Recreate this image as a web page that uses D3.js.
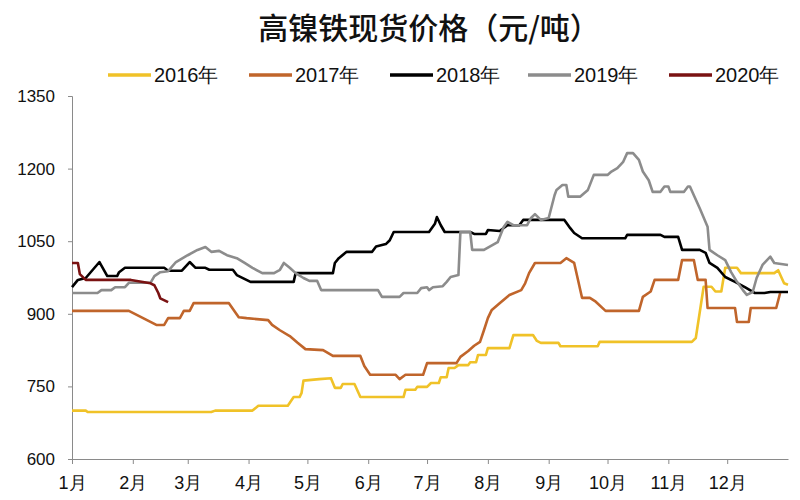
<!DOCTYPE html>
<html>
<head>
<meta charset="utf-8">
<script src="https://cdn.jsdelivr.net/npm/d3@7"></script>
<style>
  body { margin: 0; background: #fff; }
  svg { display: block; }
</style>
</head>
<body>
<svg id="chart" width="800" height="500"></svg>
<script>
// ---- data (day of year, price 元/吨) ----
const title = "高镍铁现货价格（元/吨）";
const seriesNames = ["2016年", "2017年", "2018年", "2019年", "2020年"];
const seriesColors = ["#F0C228", "#C0652B", "#000000", "#8C8C8C", "#7A1212"];
const monthLabels = ["1月","2月","3月","4月","5月","6月","7月","8月","9月","10月","11月","12月"];
const monthStartDays = [0,31,59,90,120,151,181,212,243,273,304,334];
const yTicks = [600, 750, 900, 1050, 1200, 1350];

const s2016 = [[0,700],[7,700],[8,697],[71,697],[73,700],[92,700],[95,710],[110,710],[113,728],[116,728],[117,736],[118,762],[126,765],[132,767],[134,747],[137,747],[138,755],[144,755],[147,728],[169,728],[170,743],[175,743],[176,749],[181,749],[183,757],[187,757],[188,769],[191,769],[192,788],[195,788],[197,794],[202,794],[203,800],[206,800],[207,815],[211,815],[212,829],[223,829],[225,856],[235,856],[237,844],[239,840],[248,840],[249,833],[268,833],[269,842],[316,842],[318,850],[322,956],[326,956],[328,946],[331,946],[333,995],[339,995],[341,984],[358,984],[360,990],[363,963],[365,960]];
const s2017 = [[0,906],[29,906],[43,877],[47,877],[49,891],[55,891],[57,906],[60,906],[62,922],[80,922],[85,893],[89,891],[100,887],[102,877],[106,866],[111,854],[115,840],[119,827],[128,825],[133,813],[147,813],[149,792],[152,774],[165,774],[167,765],[170,774],[179,774],[181,798],[196,798],[198,811],[202,823],[205,834],[208,842],[210,866],[212,891],[214,908],[218,922],[223,939],[229,949],[231,963],[233,984],[236,1005],[249,1005],[252,1015],[256,1005],[260,933],[264,933],[267,925],[272,906],[289,906],[291,935],[295,946],[297,970],[309,970],[311,1011],[317,1011],[319,970],[323,970],[324,912],[338,912],[339,883],[345,883],[346,912],[359,912],[361,943]];
const s2018 = [[0,955],[3,970],[7,974],[14,1007],[18,978],[23,978],[24,986],[27,995],[47,995],[49,989],[56,989],[60,1007],[63,995],[68,995],[70,991],[82,991],[84,980],[91,966],[113,966],[114,984],[133,984],[134,1005],[136,1015],[140,1028],[153,1028],[155,1039],[160,1044],[162,1052],[164,1069],[182,1069],[185,1086],[186,1100],[188,1083],[190,1069],[203,1069],[205,1065],[211,1065],[212,1073],[218,1071],[222,1083],[228,1083],[230,1094],[251,1094],[254,1077],[256,1067],[260,1056],[282,1056],[283,1063],[300,1063],[302,1059],[309,1059],[311,1032],[320,1032],[323,1026],[325,1005],[329,995],[333,976],[338,966],[343,955],[348,943],[353,943],[356,945],[365,945]];
const s2019 = [[0,943],[13,943],[15,949],[20,949],[22,955],[27,955],[29,964],[40,964],[42,978],[45,986],[49,988],[53,1007],[59,1021],[64,1032],[68,1038],[71,1028],[75,1030],[79,1021],[84,1015],[88,1005],[92,995],[97,984],[103,984],[106,991],[108,1005],[111,995],[114,984],[118,974],[121,968],[125,968],[127,949],[156,949],[158,935],[167,935],[169,943],[176,943],[178,953],[181,955],[182,949],[184,955],[189,957],[191,966],[193,976],[197,980],[198,1069],[203,1069],[204,1032],[210,1032],[217,1048],[220,1079],[222,1090],[225,1083],[232,1083],[234,1098],[236,1106],[239,1094],[243,1098],[246,1145],[247,1156],[250,1166],[252,1166],[253,1142],[259,1142],[263,1156],[266,1187],[273,1187],[275,1194],[278,1201],[281,1214],[283,1232],[286,1232],[289,1218],[291,1194],[294,1176],[296,1152],[300,1152],[302,1163],[304,1163],[305,1152],[312,1152],[314,1163],[315,1163],[317,1145],[320,1118],[324,1080],[325,1032],[329,1021],[333,1011],[336,986],[339,966],[342,949],[344,939],[347,945],[349,974],[352,1001],[356,1018],[358,1005],[365,1001]];
const s2020 = [[0,1005],[3,1005],[4,982],[7,970],[30,970],[40,963],[42,959],[44,943],[45,932],[49,924]];
const allSeries = [s2016, s2017, s2018, s2019, s2020];

// ---- layout ----
const svg = d3.select("#chart");
const plotLeft = 72, plotRight = 788, plotTop = 96, plotBottom = 459;
const x = d3.scaleLinear().domain([0, 365]).range([plotLeft, plotRight]);
const y = d3.scaleLinear().domain([600, 1350]).range([plotBottom, plotTop]);
const axisColor = "#8a8a8a";
const numFont = "'Liberation Sans', Arial, sans-serif";
const cjkFont = "'Noto Sans CJK SC', 'Noto Sans', sans-serif";

// title
svg.append("text")
  .attr("x", 429).attr("y", 39)
  .attr("text-anchor", "middle")
  .attr("font-family", cjkFont)
  .attr("font-size", 30)
  .attr("font-weight", 500)
  .attr("fill", "#111")
  .text(title);

// legend
const legendX = [108, 249, 390, 528, 669];
seriesNames.forEach((name, i) => {
  const g = svg.append("g").attr("transform", `translate(${legendX[i]},75)`);
  g.append("line").attr("x1", 0).attr("x2", 43).attr("y1", 0).attr("y2", 0)
    .attr("stroke", seriesColors[i]).attr("stroke-width", 3.5);
  g.append("text").attr("x", 46).attr("y", 7)
    .attr("font-family", numFont).attr("font-size", 20).attr("fill", "#111")
    .text(name);
});

// y axis
const yAxis = d3.axisLeft(y).tickValues(yTicks).tickFormat(d3.format("d")).tickSize(4).tickPadding(13);
const gy = svg.append("g").attr("transform", `translate(${plotLeft},0)`).call(yAxis);
gy.select(".domain").attr("stroke", axisColor);
gy.selectAll(".tick line").attr("stroke", axisColor);
gy.selectAll(".tick text").attr("font-family", numFont).attr("font-size", 17).attr("fill", "#111");

// x axis
const xAxis = d3.axisBottom(x).tickValues(monthStartDays)
  .tickFormat((d, i) => monthLabels[i]).tickSize(5).tickPadding(12).tickSizeOuter(0);
const gx = svg.append("g").attr("transform", `translate(0,${plotBottom})`).call(xAxis);
gx.select(".domain").attr("stroke", axisColor);
gx.selectAll(".tick line").attr("stroke", axisColor);
gx.selectAll(".tick text").attr("font-family", numFont).attr("font-size", 18).attr("fill", "#111");

// lines
const line = d3.line().x(d => x(d[0])).y(d => y(d[1]));
allSeries.forEach((s, i) => {
  svg.append("path").datum(s)
    .attr("d", line)
    .attr("fill", "none")
    .attr("stroke", seriesColors[i])
    .attr("stroke-width", 2.6)
    .attr("stroke-linejoin", "round");
});
</script>
</body>
</html>
